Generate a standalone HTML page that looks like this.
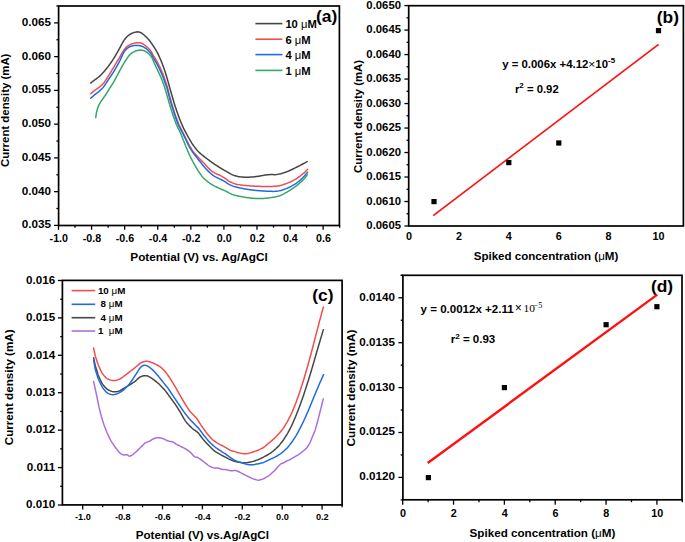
<!DOCTYPE html>
<html><head><meta charset="utf-8"><style>
html,body{margin:0;padding:0;background:#fff;}
svg{display:block;}
text{fill:#000;}
</style></head><body>
<svg width="685" height="542" viewBox="0 0 685 542">
<rect width="685" height="542" fill="#fff"/>
<rect x="58.60" y="6.00" width="280.80" height="219.50" fill="none" stroke="#000" stroke-width="1.7"/>
<line x1="54.10" y1="225.40" x2="58.60" y2="225.40" stroke="#000" stroke-width="1.3"/>
<text transform="translate(51.00,228.30) scale(1.075,1)" font-size="10.9" font-weight="bold" text-anchor="end" font-family="'Liberation Sans', sans-serif">0.035</text>
<line x1="56.40" y1="208.53" x2="58.60" y2="208.53" stroke="#000" stroke-width="1.3"/>
<line x1="54.10" y1="191.65" x2="58.60" y2="191.65" stroke="#000" stroke-width="1.3"/>
<text transform="translate(51.00,194.55) scale(1.075,1)" font-size="10.9" font-weight="bold" text-anchor="end" font-family="'Liberation Sans', sans-serif">0.040</text>
<line x1="56.40" y1="174.78" x2="58.60" y2="174.78" stroke="#000" stroke-width="1.3"/>
<line x1="54.10" y1="157.90" x2="58.60" y2="157.90" stroke="#000" stroke-width="1.3"/>
<text transform="translate(51.00,160.80) scale(1.075,1)" font-size="10.9" font-weight="bold" text-anchor="end" font-family="'Liberation Sans', sans-serif">0.045</text>
<line x1="56.40" y1="141.03" x2="58.60" y2="141.03" stroke="#000" stroke-width="1.3"/>
<line x1="54.10" y1="124.15" x2="58.60" y2="124.15" stroke="#000" stroke-width="1.3"/>
<text transform="translate(51.00,127.05) scale(1.075,1)" font-size="10.9" font-weight="bold" text-anchor="end" font-family="'Liberation Sans', sans-serif">0.050</text>
<line x1="56.40" y1="107.28" x2="58.60" y2="107.28" stroke="#000" stroke-width="1.3"/>
<line x1="54.10" y1="90.40" x2="58.60" y2="90.40" stroke="#000" stroke-width="1.3"/>
<text transform="translate(51.00,93.30) scale(1.075,1)" font-size="10.9" font-weight="bold" text-anchor="end" font-family="'Liberation Sans', sans-serif">0.055</text>
<line x1="56.40" y1="73.53" x2="58.60" y2="73.53" stroke="#000" stroke-width="1.3"/>
<line x1="54.10" y1="56.65" x2="58.60" y2="56.65" stroke="#000" stroke-width="1.3"/>
<text transform="translate(51.00,59.55) scale(1.075,1)" font-size="10.9" font-weight="bold" text-anchor="end" font-family="'Liberation Sans', sans-serif">0.060</text>
<line x1="56.40" y1="39.78" x2="58.60" y2="39.78" stroke="#000" stroke-width="1.3"/>
<line x1="54.10" y1="22.90" x2="58.60" y2="22.90" stroke="#000" stroke-width="1.3"/>
<text transform="translate(51.00,25.80) scale(1.075,1)" font-size="10.9" font-weight="bold" text-anchor="end" font-family="'Liberation Sans', sans-serif">0.065</text>
<line x1="56.40" y1="6.03" x2="58.60" y2="6.03" stroke="#000" stroke-width="1.3"/>
<line x1="58.50" y1="225.50" x2="58.50" y2="229.80" stroke="#000" stroke-width="1.3"/>
<text x="58.80" y="242.00" font-size="10.7" font-weight="bold" text-anchor="middle" font-family="'Liberation Sans', sans-serif" >-1.0</text>
<line x1="75.04" y1="225.50" x2="75.04" y2="227.70" stroke="#000" stroke-width="1.3"/>
<line x1="91.58" y1="225.50" x2="91.58" y2="229.80" stroke="#000" stroke-width="1.3"/>
<text x="91.88" y="242.00" font-size="10.7" font-weight="bold" text-anchor="middle" font-family="'Liberation Sans', sans-serif" >-0.8</text>
<line x1="108.12" y1="225.50" x2="108.12" y2="227.70" stroke="#000" stroke-width="1.3"/>
<line x1="124.66" y1="225.50" x2="124.66" y2="229.80" stroke="#000" stroke-width="1.3"/>
<text x="124.96" y="242.00" font-size="10.7" font-weight="bold" text-anchor="middle" font-family="'Liberation Sans', sans-serif" >-0.6</text>
<line x1="141.20" y1="225.50" x2="141.20" y2="227.70" stroke="#000" stroke-width="1.3"/>
<line x1="157.74" y1="225.50" x2="157.74" y2="229.80" stroke="#000" stroke-width="1.3"/>
<text x="158.04" y="242.00" font-size="10.7" font-weight="bold" text-anchor="middle" font-family="'Liberation Sans', sans-serif" >-0.4</text>
<line x1="174.28" y1="225.50" x2="174.28" y2="227.70" stroke="#000" stroke-width="1.3"/>
<line x1="190.82" y1="225.50" x2="190.82" y2="229.80" stroke="#000" stroke-width="1.3"/>
<text x="191.12" y="242.00" font-size="10.7" font-weight="bold" text-anchor="middle" font-family="'Liberation Sans', sans-serif" >-0.2</text>
<line x1="207.36" y1="225.50" x2="207.36" y2="227.70" stroke="#000" stroke-width="1.3"/>
<line x1="223.90" y1="225.50" x2="223.90" y2="229.80" stroke="#000" stroke-width="1.3"/>
<text x="224.20" y="242.00" font-size="10.7" font-weight="bold" text-anchor="middle" font-family="'Liberation Sans', sans-serif" >0.0</text>
<line x1="240.44" y1="225.50" x2="240.44" y2="227.70" stroke="#000" stroke-width="1.3"/>
<line x1="256.98" y1="225.50" x2="256.98" y2="229.80" stroke="#000" stroke-width="1.3"/>
<text x="257.28" y="242.00" font-size="10.7" font-weight="bold" text-anchor="middle" font-family="'Liberation Sans', sans-serif" >0.2</text>
<line x1="273.52" y1="225.50" x2="273.52" y2="227.70" stroke="#000" stroke-width="1.3"/>
<line x1="290.06" y1="225.50" x2="290.06" y2="229.80" stroke="#000" stroke-width="1.3"/>
<text x="290.36" y="242.00" font-size="10.7" font-weight="bold" text-anchor="middle" font-family="'Liberation Sans', sans-serif" >0.4</text>
<line x1="306.60" y1="225.50" x2="306.60" y2="227.70" stroke="#000" stroke-width="1.3"/>
<line x1="323.14" y1="225.50" x2="323.14" y2="229.80" stroke="#000" stroke-width="1.3"/>
<text x="323.44" y="242.00" font-size="10.7" font-weight="bold" text-anchor="middle" font-family="'Liberation Sans', sans-serif" >0.6</text>
<line x1="339.68" y1="225.50" x2="339.68" y2="227.70" stroke="#000" stroke-width="1.3"/>
<text x="199.00" y="261.20" font-size="11.75" font-weight="bold" text-anchor="middle" font-family="'Liberation Sans', sans-serif" >Potential (V) vs. Ag/AgCl</text>
<text x="0.00" y="0.00" font-size="11.42" font-weight="bold" text-anchor="middle" font-family="'Liberation Sans', sans-serif" transform="translate(9.2,110.3) rotate(-90)">Current density (mA)</text>
<text x="316.00" y="21.70" font-size="17.4" font-weight="bold" text-anchor="start" font-family="'Liberation Sans', sans-serif" >(a)</text>
<line x1="255.40" y1="23.60" x2="282.40" y2="23.60" stroke="#454545" stroke-width="1.6"/>
<text x="285.40" y="27.90" font-size="11.2" font-weight="bold" text-anchor="start" font-family="'Liberation Sans', sans-serif" >10 <tspan font-weight="normal">μ</tspan>M</text>
<line x1="255.40" y1="39.20" x2="282.40" y2="39.20" stroke="#f14d4d" stroke-width="1.6"/>
<text x="285.40" y="43.50" font-size="11.2" font-weight="bold" text-anchor="start" font-family="'Liberation Sans', sans-serif" >6 <tspan font-weight="normal">μ</tspan>M</text>
<line x1="255.40" y1="54.60" x2="282.40" y2="54.60" stroke="#1f6be0" stroke-width="1.6"/>
<text x="285.40" y="58.90" font-size="11.2" font-weight="bold" text-anchor="start" font-family="'Liberation Sans', sans-serif" >4 <tspan font-weight="normal">μ</tspan>M</text>
<line x1="255.40" y1="70.40" x2="282.40" y2="70.40" stroke="#33a867" stroke-width="1.6"/>
<text x="285.40" y="74.70" font-size="11.2" font-weight="bold" text-anchor="start" font-family="'Liberation Sans', sans-serif" >1 <tspan font-weight="normal">μ</tspan>M</text>
<path d="M90.70,83.00 L91.48,82.37 L92.27,81.75 L93.06,81.14 L93.86,80.54 L94.67,79.95 L95.49,79.37 L96.31,78.79 L97.12,78.20 L97.91,77.60 L98.69,76.97 L99.46,76.33 L100.20,75.66 L100.92,74.96 L101.62,74.25 L102.31,73.52 L102.99,72.79 L103.66,72.04 L104.31,71.28 L104.96,70.52 L105.59,69.74 L106.22,68.96 L106.85,68.18 L107.47,67.39 L108.08,66.60 L108.69,65.80 L109.28,64.99 L109.86,64.18 L110.44,63.36 L111.01,62.53 L111.57,61.71 L112.14,60.88 L112.69,60.05 L113.24,59.21 L113.78,58.36 L114.30,57.50 L114.82,56.65 L115.33,55.79 L115.84,54.92 L116.35,54.06 L116.86,53.20 L117.37,52.33 L117.86,51.46 L118.35,50.59 L118.84,49.71 L119.32,48.83 L119.79,47.95 L120.26,47.06 L120.73,46.18 L121.19,45.29 L121.66,44.40 L122.12,43.51 L122.60,42.63 L123.10,41.77 L123.63,40.92 L124.19,40.09 L124.78,39.28 L125.38,38.49 L126.01,37.72 L126.69,36.99 L127.40,36.30 L128.16,35.66 L128.96,35.06 L129.78,34.50 L130.63,33.98 L131.51,33.50 L132.40,33.07 L133.32,32.69 L134.26,32.39 L135.22,32.14 L136.19,31.97 L137.16,31.87 L138.13,31.89 L139.07,32.03 L139.99,32.32 L140.87,32.72 L141.72,33.21 L142.54,33.78 L143.32,34.39 L144.09,35.03 L144.83,35.70 L145.56,36.39 L146.27,37.09 L146.98,37.81 L147.67,38.53 L148.34,39.27 L149.00,40.02 L149.64,40.79 L150.26,41.58 L150.85,42.39 L151.43,43.21 L151.99,44.03 L152.55,44.86 L153.11,45.70 L153.67,46.53 L154.21,47.37 L154.75,48.22 L155.27,49.07 L155.79,49.93 L156.30,50.79 L156.80,51.66 L157.29,52.53 L157.76,53.41 L158.21,54.31 L158.64,55.21 L159.05,56.13 L159.46,57.04 L159.87,57.96 L160.27,58.88 L160.67,59.80 L161.06,60.72 L161.43,61.65 L161.80,62.58 L162.15,63.52 L162.51,64.45 L162.86,65.39 L163.20,66.33 L163.55,67.27 L163.89,68.22 L164.23,69.16 L164.56,70.11 L164.87,71.06 L165.18,72.01 L165.48,72.97 L165.77,73.93 L166.07,74.88 L166.36,75.84 L166.65,76.80 L166.94,77.76 L167.23,78.72 L167.51,79.68 L167.78,80.65 L168.05,81.61 L168.32,82.58 L168.59,83.55 L168.86,84.51 L169.12,85.48 L169.39,86.44 L169.66,87.41 L169.94,88.37 L170.21,89.34 L170.49,90.30 L170.76,91.26 L171.04,92.23 L171.31,93.19 L171.59,94.15 L171.86,95.12 L172.14,96.08 L172.41,97.05 L172.69,98.01 L172.96,98.97 L173.24,99.94 L173.52,100.90 L173.79,101.86 L174.08,102.82 L174.37,103.78 L174.66,104.74 L174.97,105.69 L175.28,106.65 L175.60,107.60 L175.92,108.55 L176.24,109.50 L176.56,110.45 L176.88,111.40 L177.21,112.34 L177.55,113.29 L177.88,114.23 L178.22,115.18 L178.56,116.12 L178.90,117.06 L179.24,118.00 L179.59,118.94 L179.96,119.88 L180.33,120.80 L180.72,121.73 L181.11,122.65 L181.50,123.57 L181.90,124.49 L182.30,125.41 L182.70,126.33 L183.11,127.24 L183.54,128.15 L183.99,129.05 L184.44,129.94 L184.91,130.82 L185.38,131.71 L185.85,132.59 L186.33,133.48 L186.80,134.36 L187.27,135.24 L187.74,136.13 L188.22,137.01 L188.71,137.88 L189.20,138.76 L189.70,139.62 L190.21,140.49 L190.73,141.35 L191.25,142.20 L191.77,143.06 L192.31,143.90 L192.86,144.73 L193.44,145.55 L194.04,146.35 L194.65,147.15 L195.26,147.94 L195.89,148.73 L196.51,149.51 L197.15,150.27 L197.82,151.02 L198.52,151.73 L199.24,152.42 L199.98,153.09 L200.74,153.75 L201.50,154.40 L202.26,155.05 L203.04,155.68 L203.82,156.31 L204.61,156.92 L205.41,157.53 L206.21,158.13 L207.01,158.73 L207.81,159.33 L208.62,159.93 L209.42,160.53 L210.22,161.13 L211.03,161.73 L211.84,162.32 L212.65,162.91 L213.47,163.48 L214.30,164.04 L215.14,164.59 L215.98,165.13 L216.82,165.67 L217.67,166.21 L218.52,166.75 L219.36,167.29 L220.21,167.83 L221.05,168.36 L221.90,168.89 L222.76,169.41 L223.62,169.92 L224.49,170.43 L225.36,170.93 L226.23,171.43 L227.09,171.93 L227.96,172.43 L228.84,172.92 L229.72,173.40 L230.60,173.87 L231.49,174.32 L232.40,174.74 L233.32,175.12 L234.26,175.46 L235.21,175.75 L236.17,176.02 L237.14,176.26 L238.12,176.48 L239.10,176.65 L240.09,176.80 L241.09,176.92 L242.08,177.03 L243.08,177.10 L244.08,177.15 L245.08,177.18 L246.08,177.19 L247.08,177.19 L248.09,177.17 L249.09,177.14 L250.09,177.10 L251.09,177.06 L252.09,177.00 L253.09,176.94 L254.09,176.85 L255.08,176.74 L256.07,176.61 L257.06,176.46 L258.05,176.30 L259.04,176.14 L260.03,175.97 L261.02,175.80 L262.00,175.63 L262.99,175.45 L263.98,175.28 L264.97,175.11 L265.96,174.96 L266.95,174.83 L267.94,174.72 L268.94,174.63 L269.94,174.57 L270.94,174.55 L271.93,174.56 L272.92,174.61 L273.92,174.65 L274.91,174.67 L275.89,174.62 L276.88,174.50 L277.86,174.34 L278.84,174.14 L279.82,173.92 L280.79,173.68 L281.75,173.41 L282.72,173.13 L283.67,172.84 L284.62,172.53 L285.57,172.19 L286.50,171.84 L287.44,171.47 L288.36,171.09 L289.28,170.70 L290.20,170.29 L291.11,169.88 L292.02,169.45 L292.92,169.01 L293.82,168.57 L294.72,168.13 L295.62,167.68 L296.51,167.23 L297.40,166.78 L298.30,166.32 L299.19,165.86 L300.08,165.40 L300.97,164.94 L301.85,164.47 L302.74,164.00 L303.62,163.53 L304.51,163.05 L305.39,162.58 L306.27,162.11 L307.16,161.64" fill="none" stroke="#454545" stroke-width="1.5" stroke-linejoin="round" stroke-linecap="round"/>
<path d="M90.70,93.80 L91.45,93.13 L92.20,92.47 L92.96,91.82 L93.73,91.19 L94.53,90.58 L95.34,90.00 L96.16,89.42 L96.98,88.85 L97.80,88.27 L98.60,87.68 L99.40,87.08 L100.18,86.45 L100.94,85.80 L101.67,85.12 L102.39,84.42 L103.07,83.70 L103.72,82.94 L104.34,82.16 L104.92,81.35 L105.49,80.52 L106.04,79.69 L106.58,78.85 L107.12,78.00 L107.65,77.16 L108.19,76.31 L108.73,75.46 L109.26,74.62 L109.80,73.77 L110.33,72.92 L110.86,72.07 L111.38,71.22 L111.90,70.36 L112.40,69.49 L112.91,68.63 L113.42,67.76 L113.92,66.90 L114.42,66.03 L114.93,65.17 L115.43,64.30 L115.94,63.43 L116.44,62.57 L116.95,61.71 L117.47,60.85 L117.99,60.00 L118.53,59.15 L119.06,58.30 L119.59,57.45 L120.10,56.59 L120.60,55.73 L121.09,54.85 L121.56,53.97 L122.04,53.09 L122.53,52.22 L123.05,51.36 L123.59,50.52 L124.16,49.70 L124.76,48.91 L125.39,48.13 L126.05,47.40 L126.77,46.73 L127.54,46.12 L128.36,45.57 L129.23,45.09 L130.12,44.65 L131.04,44.26 L131.97,43.91 L132.92,43.60 L133.88,43.33 L134.85,43.11 L135.83,42.92 L136.82,42.78 L137.80,42.70 L138.78,42.71 L139.75,42.81 L140.70,43.02 L141.63,43.33 L142.52,43.74 L143.38,44.22 L144.22,44.76 L145.03,45.34 L145.82,45.95 L146.58,46.59 L147.32,47.26 L148.05,47.95 L148.76,48.65 L149.45,49.38 L150.11,50.12 L150.72,50.89 L151.27,51.71 L151.77,52.56 L152.25,53.44 L152.72,54.32 L153.21,55.19 L153.72,56.05 L154.25,56.90 L154.78,57.75 L155.32,58.59 L155.84,59.45 L156.35,60.31 L156.84,61.18 L157.31,62.06 L157.78,62.95 L158.24,63.84 L158.70,64.73 L159.15,65.62 L159.59,66.52 L160.02,67.43 L160.43,68.34 L160.84,69.26 L161.24,70.17 L161.64,71.09 L162.03,72.01 L162.42,72.94 L162.80,73.86 L163.17,74.79 L163.52,75.73 L163.86,76.67 L164.20,77.62 L164.53,78.56 L164.86,79.51 L165.19,80.45 L165.52,81.40 L165.84,82.35 L166.16,83.30 L166.47,84.25 L166.78,85.20 L167.08,86.16 L167.37,87.12 L167.64,88.08 L167.90,89.05 L168.14,90.02 L168.38,90.99 L168.61,91.97 L168.85,92.94 L169.08,93.91 L169.33,94.89 L169.58,95.85 L169.84,96.82 L170.11,97.79 L170.37,98.75 L170.64,99.72 L170.91,100.68 L171.18,101.65 L171.45,102.61 L171.72,103.58 L172.00,104.54 L172.29,105.50 L172.58,106.46 L172.87,107.42 L173.17,108.37 L173.46,109.33 L173.76,110.29 L174.06,111.24 L174.36,112.20 L174.66,113.15 L174.98,114.11 L175.30,115.05 L175.64,116.00 L175.98,116.94 L176.33,117.88 L176.68,118.82 L177.02,119.76 L177.37,120.69 L177.73,121.63 L178.09,122.56 L178.47,123.49 L178.87,124.41 L179.29,125.31 L179.73,126.22 L180.17,127.11 L180.62,128.01 L181.08,128.90 L181.53,129.79 L181.98,130.69 L182.43,131.58 L182.88,132.48 L183.33,133.38 L183.77,134.27 L184.21,135.17 L184.65,136.07 L185.09,136.97 L185.53,137.87 L185.97,138.78 L186.41,139.68 L186.84,140.58 L187.28,141.48 L187.73,142.38 L188.17,143.27 L188.63,144.16 L189.10,145.04 L189.59,145.92 L190.10,146.78 L190.61,147.64 L191.13,148.50 L191.65,149.35 L192.19,150.20 L192.76,151.02 L193.35,151.82 L193.98,152.60 L194.62,153.36 L195.28,154.12 L195.94,154.87 L196.61,155.62 L197.28,156.36 L197.96,157.09 L198.66,157.81 L199.36,158.52 L200.07,159.23 L200.79,159.93 L201.50,160.64 L202.21,161.35 L202.90,162.06 L203.59,162.79 L204.27,163.52 L204.95,164.27 L205.62,165.01 L206.29,165.75 L206.96,166.49 L207.65,167.22 L208.35,167.94 L209.06,168.64 L209.79,169.33 L210.53,170.00 L211.28,170.67 L212.04,171.31 L212.82,171.92 L213.64,172.47 L214.50,172.96 L215.39,173.41 L216.30,173.82 L217.21,174.22 L218.13,174.62 L219.05,175.02 L219.96,175.44 L220.86,175.87 L221.75,176.32 L222.63,176.80 L223.49,177.31 L224.33,177.85 L225.15,178.42 L225.97,179.00 L226.77,179.60 L227.58,180.19 L228.40,180.76 L229.24,181.29 L230.10,181.78 L230.99,182.24 L231.89,182.66 L232.81,183.05 L233.74,183.41 L234.69,183.72 L235.65,183.99 L236.62,184.22 L237.60,184.44 L238.58,184.63 L239.56,184.81 L240.55,184.97 L241.54,185.11 L242.54,185.22 L243.53,185.33 L244.53,185.42 L245.53,185.52 L246.52,185.61 L247.52,185.69 L248.52,185.77 L249.52,185.83 L250.52,185.90 L251.52,185.96 L252.52,186.02 L253.52,186.08 L254.52,186.14 L255.52,186.19 L256.52,186.23 L257.52,186.28 L258.52,186.32 L259.52,186.35 L260.52,186.39 L261.53,186.42 L262.53,186.45 L263.53,186.46 L264.53,186.47 L265.53,186.47 L266.53,186.46 L267.54,186.44 L268.54,186.43 L269.54,186.42 L270.54,186.41 L271.54,186.40 L272.54,186.39 L273.54,186.37 L274.54,186.33 L275.54,186.25 L276.53,186.14 L277.52,186.00 L278.51,185.84 L279.49,185.65 L280.46,185.42 L281.43,185.17 L282.39,184.88 L283.34,184.58 L284.29,184.27 L285.24,183.94 L286.18,183.60 L287.11,183.24 L288.05,182.88 L288.98,182.50 L289.90,182.11 L290.81,181.71 L291.72,181.29 L292.62,180.85 L293.52,180.40 L294.40,179.94 L295.27,179.44 L296.12,178.92 L296.96,178.37 L297.78,177.81 L298.60,177.23 L299.41,176.64 L300.21,176.04 L301.00,175.42 L301.78,174.79 L302.54,174.15 L303.30,173.49 L304.04,172.82 L304.78,172.14 L305.49,171.44 L306.20,170.73 L306.90,170.02 L307.60,169.30" fill="none" stroke="#f14d4d" stroke-width="1.5" stroke-linejoin="round" stroke-linecap="round"/>
<path d="M90.70,98.20 L91.45,97.53 L92.19,96.86 L92.95,96.21 L93.72,95.56 L94.50,94.94 L95.29,94.32 L96.09,93.72 L96.88,93.10 L97.67,92.48 L98.44,91.84 L99.20,91.19 L99.95,90.53 L100.69,89.85 L101.41,89.16 L102.12,88.45 L102.80,87.72 L103.45,86.96 L104.07,86.18 L104.65,85.37 L105.22,84.54 L105.77,83.71 L106.31,82.87 L106.86,82.02 L107.41,81.18 L107.96,80.34 L108.51,79.51 L109.06,78.67 L109.62,77.84 L110.17,77.00 L110.73,76.17 L111.29,75.34 L111.85,74.51 L112.41,73.67 L112.96,72.84 L113.51,72.00 L114.04,71.15 L114.56,70.29 L115.06,69.43 L115.56,68.55 L116.05,67.68 L116.54,66.80 L117.03,65.93 L117.52,65.05 L118.00,64.18 L118.49,63.30 L118.97,62.42 L119.44,61.54 L119.90,60.64 L120.33,59.74 L120.75,58.83 L121.16,57.92 L121.56,57.00 L121.96,56.08 L122.37,55.17 L122.81,54.27 L123.27,53.38 L123.78,52.52 L124.32,51.69 L124.90,50.87 L125.51,50.09 L126.15,49.34 L126.86,48.65 L127.62,48.04 L128.44,47.49 L129.31,47.02 L130.21,46.62 L131.14,46.28 L132.10,46.00 L133.07,45.78 L134.05,45.61 L135.04,45.50 L136.03,45.44 L137.03,45.43 L138.02,45.47 L139.01,45.57 L139.98,45.75 L140.94,45.99 L141.88,46.30 L142.80,46.68 L143.69,47.11 L144.56,47.60 L145.40,48.14 L146.21,48.72 L146.98,49.34 L147.73,50.01 L148.45,50.70 L149.16,51.40 L149.84,52.13 L150.49,52.88 L151.08,53.67 L151.60,54.51 L152.06,55.38 L152.50,56.27 L152.95,57.16 L153.43,58.04 L153.93,58.91 L154.45,59.76 L154.98,60.62 L155.50,61.47 L156.01,62.33 L156.51,63.20 L156.99,64.08 L157.45,64.97 L157.91,65.86 L158.36,66.76 L158.81,67.65 L159.26,68.55 L159.69,69.45 L160.12,70.36 L160.54,71.27 L160.95,72.19 L161.36,73.10 L161.77,74.02 L162.17,74.94 L162.56,75.86 L162.94,76.79 L163.30,77.72 L163.64,78.66 L163.97,79.61 L164.30,80.55 L164.63,81.50 L164.96,82.45 L165.29,83.40 L165.63,84.34 L165.96,85.28 L166.30,86.23 L166.63,87.17 L166.95,88.12 L167.25,89.08 L167.53,90.04 L167.78,91.01 L168.03,91.98 L168.27,92.96 L168.51,93.93 L168.75,94.90 L169.00,95.87 L169.25,96.84 L169.52,97.81 L169.79,98.78 L170.07,99.74 L170.34,100.70 L170.62,101.67 L170.90,102.63 L171.18,103.59 L171.47,104.55 L171.75,105.51 L172.04,106.48 L172.33,107.43 L172.62,108.39 L172.92,109.35 L173.22,110.31 L173.52,111.26 L173.82,112.22 L174.12,113.18 L174.42,114.13 L174.73,115.09 L175.05,116.04 L175.39,116.98 L175.73,117.92 L176.08,118.87 L176.43,119.80 L176.78,120.74 L177.13,121.68 L177.49,122.62 L177.85,123.55 L178.22,124.48 L178.62,125.40 L179.04,126.31 L179.49,127.20 L179.95,128.09 L180.42,128.98 L180.90,129.86 L181.37,130.74 L181.85,131.63 L182.32,132.51 L182.79,133.40 L183.25,134.29 L183.70,135.18 L184.14,136.08 L184.58,136.99 L185.01,137.89 L185.44,138.80 L185.87,139.70 L186.30,140.61 L186.73,141.52 L187.16,142.42 L187.59,143.33 L188.02,144.23 L188.47,145.12 L188.94,146.01 L189.42,146.89 L189.92,147.75 L190.44,148.62 L190.96,149.47 L191.48,150.33 L192.02,151.17 L192.57,152.01 L193.14,152.83 L193.73,153.64 L194.33,154.44 L194.95,155.23 L195.56,156.02 L196.18,156.81 L196.80,157.60 L197.42,158.39 L198.05,159.17 L198.67,159.96 L199.29,160.74 L199.92,161.53 L200.55,162.31 L201.17,163.09 L201.80,163.87 L202.44,164.65 L203.08,165.42 L203.73,166.18 L204.39,166.93 L205.06,167.68 L205.73,168.43 L206.40,169.17 L207.08,169.91 L207.77,170.64 L208.47,171.35 L209.19,172.04 L209.93,172.72 L210.68,173.39 L211.43,174.05 L212.20,174.68 L212.99,175.29 L213.81,175.85 L214.66,176.37 L215.54,176.85 L216.43,177.31 L217.32,177.76 L218.22,178.20 L219.12,178.65 L220.02,179.09 L220.92,179.54 L221.81,179.99 L222.70,180.46 L223.58,180.94 L224.45,181.44 L225.30,181.95 L226.15,182.49 L226.99,183.03 L227.83,183.57 L228.69,184.09 L229.56,184.56 L230.46,184.99 L231.38,185.39 L232.31,185.76 L233.25,186.11 L234.19,186.43 L235.15,186.72 L236.12,186.98 L237.09,187.23 L238.06,187.47 L239.04,187.70 L240.01,187.92 L240.99,188.14 L241.98,188.34 L242.96,188.54 L243.94,188.74 L244.93,188.93 L245.91,189.11 L246.90,189.28 L247.89,189.44 L248.88,189.58 L249.87,189.71 L250.87,189.84 L251.86,189.96 L252.86,190.08 L253.85,190.20 L254.85,190.32 L255.85,190.42 L256.85,190.52 L257.84,190.61 L258.84,190.70 L259.84,190.78 L260.84,190.87 L261.84,190.95 L262.84,191.02 L263.84,191.08 L264.84,191.12 L265.84,191.16 L266.85,191.19 L267.85,191.22 L268.85,191.25 L269.85,191.29 L270.85,191.32 L271.86,191.36 L272.86,191.38 L273.86,191.39 L274.86,191.37 L275.85,191.30 L276.84,191.19 L277.83,191.05 L278.82,190.88 L279.80,190.68 L280.77,190.45 L281.73,190.18 L282.69,189.89 L283.64,189.58 L284.59,189.24 L285.52,188.89 L286.45,188.51 L287.37,188.11 L288.28,187.70 L289.19,187.28 L290.09,186.84 L290.99,186.39 L291.88,185.92 L292.76,185.44 L293.63,184.95 L294.49,184.44 L295.33,183.91 L296.16,183.34 L296.97,182.75 L297.76,182.14 L298.55,181.52 L299.33,180.89 L300.09,180.24 L300.84,179.58 L301.57,178.90 L302.29,178.20 L303.00,177.49 L303.69,176.77 L304.38,176.04 L305.04,175.29 L305.69,174.53 L306.33,173.75 L306.97,172.98 L307.60,172.20" fill="none" stroke="#1f6be0" stroke-width="1.5" stroke-linejoin="round" stroke-linecap="round"/>
<path d="M95.70,117.60 L95.84,116.61 L95.99,115.62 L96.13,114.62 L96.29,113.64 L96.48,112.65 L96.69,111.68 L96.94,110.71 L97.21,109.74 L97.51,108.79 L97.82,107.84 L98.17,106.90 L98.54,105.97 L98.95,105.06 L99.39,104.16 L99.86,103.28 L100.36,102.41 L100.89,101.57 L101.45,100.74 L102.04,99.93 L102.63,99.12 L103.21,98.31 L103.79,97.49 L104.36,96.67 L104.92,95.84 L105.48,95.00 L106.03,94.16 L106.57,93.32 L107.11,92.47 L107.64,91.62 L108.17,90.77 L108.69,89.92 L109.21,89.06 L109.74,88.21 L110.28,87.36 L110.82,86.52 L111.36,85.68 L111.91,84.84 L112.45,83.99 L112.97,83.14 L113.49,82.28 L113.99,81.41 L114.48,80.54 L114.97,79.66 L115.45,78.78 L115.92,77.90 L116.40,77.01 L116.87,76.13 L117.34,75.24 L117.81,74.36 L118.28,73.47 L118.75,72.59 L119.22,71.70 L119.69,70.81 L120.16,69.93 L120.63,69.04 L121.10,68.16 L121.57,67.27 L122.05,66.39 L122.55,65.52 L123.05,64.66 L123.57,63.80 L124.10,62.94 L124.63,62.09 L125.16,61.25 L125.71,60.41 L126.26,59.57 L126.82,58.74 L127.39,57.92 L127.97,57.10 L128.56,56.29 L129.18,55.51 L129.83,54.77 L130.54,54.07 L131.30,53.43 L132.10,52.84 L132.93,52.31 L133.81,51.84 L134.71,51.43 L135.64,51.07 L136.58,50.75 L137.54,50.48 L138.51,50.27 L139.48,50.14 L140.46,50.11 L141.44,50.17 L142.41,50.33 L143.36,50.57 L144.29,50.90 L145.19,51.30 L146.06,51.78 L146.90,52.31 L147.71,52.88 L148.48,53.50 L149.22,54.17 L149.91,54.89 L150.56,55.64 L151.15,56.43 L151.68,57.26 L152.14,58.14 L152.57,59.04 L152.97,59.96 L153.36,60.88 L153.75,61.80 L154.14,62.73 L154.53,63.65 L154.93,64.57 L155.34,65.48 L155.76,66.39 L156.19,67.30 L156.62,68.20 L157.06,69.10 L157.50,70.00 L157.94,70.91 L158.37,71.81 L158.80,72.72 L159.22,73.63 L159.64,74.54 L160.05,75.45 L160.46,76.37 L160.86,77.29 L161.26,78.21 L161.64,79.13 L162.01,80.06 L162.37,81.00 L162.73,81.94 L163.07,82.88 L163.42,83.82 L163.76,84.76 L164.10,85.71 L164.42,86.65 L164.72,87.61 L165.01,88.57 L165.30,89.53 L165.58,90.49 L165.86,91.45 L166.14,92.42 L166.42,93.38 L166.70,94.34 L166.98,95.31 L167.26,96.27 L167.54,97.23 L167.82,98.19 L168.10,99.16 L168.38,100.12 L168.65,101.08 L168.93,102.05 L169.21,103.01 L169.50,103.97 L169.78,104.93 L170.06,105.89 L170.35,106.85 L170.65,107.81 L170.94,108.77 L171.24,109.73 L171.54,110.69 L171.84,111.64 L172.14,112.60 L172.44,113.56 L172.75,114.51 L173.06,115.46 L173.38,116.41 L173.72,117.35 L174.06,118.30 L174.41,119.24 L174.77,120.17 L175.12,121.11 L175.47,122.05 L175.83,122.99 L176.19,123.92 L176.56,124.85 L176.96,125.77 L177.37,126.68 L177.80,127.59 L178.25,128.49 L178.69,129.39 L179.14,130.28 L179.59,131.18 L180.03,132.08 L180.46,132.98 L180.87,133.90 L181.27,134.82 L181.65,135.74 L182.01,136.68 L182.37,137.61 L182.72,138.55 L183.08,139.49 L183.44,140.43 L183.79,141.36 L184.15,142.30 L184.52,143.23 L184.89,144.16 L185.27,145.09 L185.65,146.02 L186.04,146.94 L186.42,147.87 L186.81,148.79 L187.20,149.72 L187.58,150.64 L187.97,151.57 L188.37,152.49 L188.77,153.41 L189.19,154.32 L189.62,155.22 L190.06,156.12 L190.51,157.02 L190.96,157.92 L191.41,158.81 L191.86,159.71 L192.32,160.60 L192.78,161.49 L193.26,162.37 L193.74,163.25 L194.23,164.12 L194.72,164.99 L195.22,165.87 L195.71,166.74 L196.21,167.61 L196.71,168.48 L197.22,169.34 L197.74,170.20 L198.29,171.04 L198.85,171.86 L199.43,172.68 L200.02,173.49 L200.61,174.30 L201.21,175.11 L201.81,175.91 L202.43,176.69 L203.08,177.45 L203.76,178.17 L204.47,178.87 L205.21,179.55 L205.96,180.22 L206.71,180.87 L207.48,181.51 L208.27,182.13 L209.08,182.72 L209.90,183.28 L210.75,183.82 L211.59,184.35 L212.45,184.87 L213.32,185.38 L214.20,185.86 L215.08,186.33 L215.97,186.78 L216.87,187.23 L217.77,187.67 L218.68,188.10 L219.59,188.51 L220.51,188.92 L221.43,189.31 L222.36,189.68 L223.29,190.05 L224.22,190.42 L225.13,190.82 L226.02,191.26 L226.90,191.73 L227.77,192.22 L228.64,192.71 L229.53,193.17 L230.43,193.59 L231.35,193.98 L232.28,194.35 L233.22,194.69 L234.17,195.01 L235.13,195.29 L236.10,195.54 L237.07,195.78 L238.05,196.00 L239.03,196.22 L240.01,196.42 L240.99,196.61 L241.98,196.79 L242.97,196.97 L243.96,197.13 L244.94,197.30 L245.93,197.45 L246.93,197.60 L247.92,197.73 L248.92,197.85 L249.91,197.95 L250.91,198.06 L251.91,198.15 L252.90,198.25 L253.90,198.33 L254.90,198.40 L255.90,198.45 L256.90,198.48 L257.91,198.49 L258.91,198.50 L259.91,198.50 L260.91,198.49 L261.92,198.48 L262.92,198.45 L263.92,198.40 L264.91,198.32 L265.91,198.22 L266.91,198.12 L267.90,198.01 L268.90,197.89 L269.89,197.76 L270.89,197.62 L271.88,197.48 L272.87,197.33 L273.86,197.16 L274.84,196.98 L275.82,196.77 L276.80,196.55 L277.77,196.30 L278.73,196.03 L279.68,195.73 L280.62,195.38 L281.53,194.99 L282.44,194.56 L283.34,194.12 L284.23,193.66 L285.11,193.18 L285.98,192.69 L286.85,192.19 L287.71,191.67 L288.56,191.15 L289.41,190.62 L290.26,190.08 L291.10,189.53 L291.93,188.97 L292.76,188.41 L293.58,187.84 L294.40,187.26 L295.21,186.67 L296.01,186.07 L296.80,185.46 L297.59,184.83 L298.37,184.20 L299.15,183.57 L299.91,182.92 L300.66,182.26 L301.40,181.59 L302.13,180.90 L302.84,180.19 L303.54,179.48 L304.22,178.75 L304.88,177.99 L305.50,177.21 L306.11,176.42 L306.71,175.61 L307.30,174.80" fill="none" stroke="#33a867" stroke-width="1.5" stroke-linejoin="round" stroke-linecap="round"/>
<rect x="408.70" y="5.70" width="274.70" height="220.30" fill="none" stroke="#000" stroke-width="1.7"/>
<line x1="404.40" y1="226.00" x2="408.70" y2="226.00" stroke="#000" stroke-width="1.3"/>
<text transform="translate(401.00,229.20) scale(1.05,1)" font-size="10.8" font-weight="bold" text-anchor="end" font-family="'Liberation Sans', sans-serif">0.0605</text>
<line x1="406.50" y1="213.75" x2="408.70" y2="213.75" stroke="#000" stroke-width="1.3"/>
<line x1="404.40" y1="201.51" x2="408.70" y2="201.51" stroke="#000" stroke-width="1.3"/>
<text transform="translate(401.00,204.71) scale(1.05,1)" font-size="10.8" font-weight="bold" text-anchor="end" font-family="'Liberation Sans', sans-serif">0.0610</text>
<line x1="406.50" y1="189.26" x2="408.70" y2="189.26" stroke="#000" stroke-width="1.3"/>
<line x1="404.40" y1="177.02" x2="408.70" y2="177.02" stroke="#000" stroke-width="1.3"/>
<text transform="translate(401.00,180.22) scale(1.05,1)" font-size="10.8" font-weight="bold" text-anchor="end" font-family="'Liberation Sans', sans-serif">0.0615</text>
<line x1="406.50" y1="164.78" x2="408.70" y2="164.78" stroke="#000" stroke-width="1.3"/>
<line x1="404.40" y1="152.53" x2="408.70" y2="152.53" stroke="#000" stroke-width="1.3"/>
<text transform="translate(401.00,155.73) scale(1.05,1)" font-size="10.8" font-weight="bold" text-anchor="end" font-family="'Liberation Sans', sans-serif">0.0620</text>
<line x1="406.50" y1="140.28" x2="408.70" y2="140.28" stroke="#000" stroke-width="1.3"/>
<line x1="404.40" y1="128.04" x2="408.70" y2="128.04" stroke="#000" stroke-width="1.3"/>
<text transform="translate(401.00,131.24) scale(1.05,1)" font-size="10.8" font-weight="bold" text-anchor="end" font-family="'Liberation Sans', sans-serif">0.0625</text>
<line x1="406.50" y1="115.80" x2="408.70" y2="115.80" stroke="#000" stroke-width="1.3"/>
<line x1="404.40" y1="103.55" x2="408.70" y2="103.55" stroke="#000" stroke-width="1.3"/>
<text transform="translate(401.00,106.75) scale(1.05,1)" font-size="10.8" font-weight="bold" text-anchor="end" font-family="'Liberation Sans', sans-serif">0.0630</text>
<line x1="406.50" y1="91.31" x2="408.70" y2="91.31" stroke="#000" stroke-width="1.3"/>
<line x1="404.40" y1="79.06" x2="408.70" y2="79.06" stroke="#000" stroke-width="1.3"/>
<text transform="translate(401.00,82.26) scale(1.05,1)" font-size="10.8" font-weight="bold" text-anchor="end" font-family="'Liberation Sans', sans-serif">0.0635</text>
<line x1="406.50" y1="66.81" x2="408.70" y2="66.81" stroke="#000" stroke-width="1.3"/>
<line x1="404.40" y1="54.57" x2="408.70" y2="54.57" stroke="#000" stroke-width="1.3"/>
<text transform="translate(401.00,57.77) scale(1.05,1)" font-size="10.8" font-weight="bold" text-anchor="end" font-family="'Liberation Sans', sans-serif">0.0640</text>
<line x1="406.50" y1="42.33" x2="408.70" y2="42.33" stroke="#000" stroke-width="1.3"/>
<line x1="404.40" y1="30.08" x2="408.70" y2="30.08" stroke="#000" stroke-width="1.3"/>
<text transform="translate(401.00,33.28) scale(1.05,1)" font-size="10.8" font-weight="bold" text-anchor="end" font-family="'Liberation Sans', sans-serif">0.0645</text>
<line x1="406.50" y1="17.84" x2="408.70" y2="17.84" stroke="#000" stroke-width="1.3"/>
<line x1="404.40" y1="5.59" x2="408.70" y2="5.59" stroke="#000" stroke-width="1.3"/>
<text transform="translate(401.00,8.79) scale(1.05,1)" font-size="10.8" font-weight="bold" text-anchor="end" font-family="'Liberation Sans', sans-serif">0.0650</text>
<text transform="translate(409.00,240.10) scale(1.0,1.06)" font-size="10.8" font-weight="bold" text-anchor="middle" font-family="'Liberation Sans', sans-serif">0</text>
<text transform="translate(458.90,240.10) scale(1.0,1.06)" font-size="10.8" font-weight="bold" text-anchor="middle" font-family="'Liberation Sans', sans-serif">2</text>
<text transform="translate(508.80,240.10) scale(1.0,1.06)" font-size="10.8" font-weight="bold" text-anchor="middle" font-family="'Liberation Sans', sans-serif">4</text>
<text transform="translate(558.70,240.10) scale(1.0,1.06)" font-size="10.8" font-weight="bold" text-anchor="middle" font-family="'Liberation Sans', sans-serif">6</text>
<text transform="translate(608.60,240.10) scale(1.0,1.06)" font-size="10.8" font-weight="bold" text-anchor="middle" font-family="'Liberation Sans', sans-serif">8</text>
<text transform="translate(658.50,240.10) scale(1.0,1.06)" font-size="10.8" font-weight="bold" text-anchor="middle" font-family="'Liberation Sans', sans-serif">10</text>
<text x="546.00" y="260.20" font-size="11.55" font-weight="bold" text-anchor="middle" font-family="'Liberation Sans', sans-serif" >Spiked concentration (<tspan font-weight="normal">μ</tspan>M)</text>
<text x="0.00" y="0.00" font-size="11.36" font-weight="bold" text-anchor="middle" font-family="'Liberation Sans', sans-serif" transform="translate(362.2,116.4) rotate(-90)">Current density (mA)</text>
<text x="656.80" y="22.50" font-size="17.4" font-weight="bold" text-anchor="start" font-family="'Liberation Sans', sans-serif" >(b)</text>
<line x1="433.20" y1="215.60" x2="658.60" y2="44.40" stroke="#ff1010" stroke-width="1.7"/>
<rect x="431.40" y="199.00" width="5.2" height="5.2" fill="#000"/>
<rect x="506.20" y="160.00" width="5.2" height="5.2" fill="#000"/>
<rect x="556.20" y="140.40" width="5.2" height="5.2" fill="#000"/>
<rect x="655.90" y="28.00" width="5.2" height="5.2" fill="#000"/>
<text transform="translate(502.2,67.6) scale(1.065,1)" font-size="10.7" font-weight="bold" font-family="'Liberation Sans', sans-serif">y = 0.006x +4.12<tspan font-weight="normal" font-size="11.2">×</tspan>10<tspan font-size="7.5" dy="-4.6">-5</tspan></text>
<text transform="translate(514.9,92.8) scale(1.06,1)" font-size="10.7" font-weight="bold" font-family="'Liberation Sans', sans-serif">r<tspan font-size="7.5" dy="-4.5">2</tspan><tspan dy="4.5"> = 0.92</tspan></text>
<rect x="62.40" y="280.40" width="279.70" height="224.50" fill="none" stroke="#000" stroke-width="1.7"/>
<line x1="57.90" y1="505.00" x2="62.40" y2="505.00" stroke="#000" stroke-width="1.3"/>
<text transform="translate(55.20,508.30) scale(1.07,1)" font-size="10.9" font-weight="bold" text-anchor="end" font-family="'Liberation Sans', sans-serif">0.010</text>
<line x1="60.20" y1="486.29" x2="62.40" y2="486.29" stroke="#000" stroke-width="1.3"/>
<line x1="57.90" y1="467.58" x2="62.40" y2="467.58" stroke="#000" stroke-width="1.3"/>
<text transform="translate(55.20,470.88) scale(1.07,1)" font-size="10.9" font-weight="bold" text-anchor="end" font-family="'Liberation Sans', sans-serif">0.011</text>
<line x1="60.20" y1="448.87" x2="62.40" y2="448.87" stroke="#000" stroke-width="1.3"/>
<line x1="57.90" y1="430.16" x2="62.40" y2="430.16" stroke="#000" stroke-width="1.3"/>
<text transform="translate(55.20,433.46) scale(1.07,1)" font-size="10.9" font-weight="bold" text-anchor="end" font-family="'Liberation Sans', sans-serif">0.012</text>
<line x1="60.20" y1="411.45" x2="62.40" y2="411.45" stroke="#000" stroke-width="1.3"/>
<line x1="57.90" y1="392.74" x2="62.40" y2="392.74" stroke="#000" stroke-width="1.3"/>
<text transform="translate(55.20,396.04) scale(1.07,1)" font-size="10.9" font-weight="bold" text-anchor="end" font-family="'Liberation Sans', sans-serif">0.013</text>
<line x1="60.20" y1="374.03" x2="62.40" y2="374.03" stroke="#000" stroke-width="1.3"/>
<line x1="57.90" y1="355.32" x2="62.40" y2="355.32" stroke="#000" stroke-width="1.3"/>
<text transform="translate(55.20,358.62) scale(1.07,1)" font-size="10.9" font-weight="bold" text-anchor="end" font-family="'Liberation Sans', sans-serif">0.014</text>
<line x1="60.20" y1="336.61" x2="62.40" y2="336.61" stroke="#000" stroke-width="1.3"/>
<line x1="57.90" y1="317.90" x2="62.40" y2="317.90" stroke="#000" stroke-width="1.3"/>
<text transform="translate(55.20,321.20) scale(1.07,1)" font-size="10.9" font-weight="bold" text-anchor="end" font-family="'Liberation Sans', sans-serif">0.015</text>
<line x1="60.20" y1="299.19" x2="62.40" y2="299.19" stroke="#000" stroke-width="1.3"/>
<line x1="57.90" y1="280.48" x2="62.40" y2="280.48" stroke="#000" stroke-width="1.3"/>
<text transform="translate(55.20,283.78) scale(1.07,1)" font-size="10.9" font-weight="bold" text-anchor="end" font-family="'Liberation Sans', sans-serif">0.016</text>
<line x1="82.70" y1="504.90" x2="82.70" y2="509.40" stroke="#000" stroke-width="1.3"/>
<text transform="translate(82.90,520.00) scale(1.0,1.07)" font-size="9.2" font-weight="bold" text-anchor="middle" font-family="'Liberation Sans', sans-serif">-1.0</text>
<line x1="102.65" y1="504.90" x2="102.65" y2="507.30" stroke="#000" stroke-width="1.3"/>
<line x1="122.60" y1="504.90" x2="122.60" y2="509.40" stroke="#000" stroke-width="1.3"/>
<text transform="translate(122.80,520.00) scale(1.0,1.07)" font-size="9.2" font-weight="bold" text-anchor="middle" font-family="'Liberation Sans', sans-serif">-0.8</text>
<line x1="142.55" y1="504.90" x2="142.55" y2="507.30" stroke="#000" stroke-width="1.3"/>
<line x1="162.50" y1="504.90" x2="162.50" y2="509.40" stroke="#000" stroke-width="1.3"/>
<text transform="translate(162.70,520.00) scale(1.0,1.07)" font-size="9.2" font-weight="bold" text-anchor="middle" font-family="'Liberation Sans', sans-serif">-0.6</text>
<line x1="182.45" y1="504.90" x2="182.45" y2="507.30" stroke="#000" stroke-width="1.3"/>
<line x1="202.40" y1="504.90" x2="202.40" y2="509.40" stroke="#000" stroke-width="1.3"/>
<text transform="translate(202.60,520.00) scale(1.0,1.07)" font-size="9.2" font-weight="bold" text-anchor="middle" font-family="'Liberation Sans', sans-serif">-0.4</text>
<line x1="222.35" y1="504.90" x2="222.35" y2="507.30" stroke="#000" stroke-width="1.3"/>
<line x1="242.30" y1="504.90" x2="242.30" y2="509.40" stroke="#000" stroke-width="1.3"/>
<text transform="translate(242.50,520.00) scale(1.0,1.07)" font-size="9.2" font-weight="bold" text-anchor="middle" font-family="'Liberation Sans', sans-serif">-0.2</text>
<line x1="262.25" y1="504.90" x2="262.25" y2="507.30" stroke="#000" stroke-width="1.3"/>
<line x1="282.20" y1="504.90" x2="282.20" y2="509.40" stroke="#000" stroke-width="1.3"/>
<text transform="translate(282.40,520.00) scale(1.0,1.07)" font-size="9.2" font-weight="bold" text-anchor="middle" font-family="'Liberation Sans', sans-serif">0.0</text>
<line x1="302.15" y1="504.90" x2="302.15" y2="507.30" stroke="#000" stroke-width="1.3"/>
<line x1="322.10" y1="504.90" x2="322.10" y2="509.40" stroke="#000" stroke-width="1.3"/>
<text transform="translate(322.30,520.00) scale(1.0,1.07)" font-size="9.2" font-weight="bold" text-anchor="middle" font-family="'Liberation Sans', sans-serif">0.2</text>
<line x1="342.05" y1="504.90" x2="342.05" y2="507.30" stroke="#000" stroke-width="1.3"/>
<text x="202.30" y="538.90" font-size="11.65" font-weight="bold" text-anchor="middle" font-family="'Liberation Sans', sans-serif" >Potential (V) vs.Ag/AgCl</text>
<text x="0.00" y="0.00" font-size="11.67" font-weight="bold" text-anchor="middle" font-family="'Liberation Sans', sans-serif" transform="translate(13.4,387.3) rotate(-90)">Current density (mA)</text>
<text x="312.20" y="301.00" font-size="17.4" font-weight="bold" text-anchor="start" font-family="'Liberation Sans', sans-serif" >(c)</text>
<line x1="71.60" y1="290.60" x2="95.20" y2="290.60" stroke="#f14d4d" stroke-width="1.6"/>
<text x="97.9" y="293.70" font-size="9.8" font-weight="bold" font-family="'Liberation Sans', sans-serif" xml:space="preserve">10 <tspan font-weight="normal">μ</tspan>M</text>
<line x1="71.60" y1="304.30" x2="95.20" y2="304.30" stroke="#1f6be0" stroke-width="1.6"/>
<text x="97.9" y="307.40" font-size="9.8" font-weight="bold" font-family="'Liberation Sans', sans-serif" xml:space="preserve"> 8 <tspan font-weight="normal">μ</tspan>M</text>
<line x1="71.60" y1="317.70" x2="95.20" y2="317.70" stroke="#474747" stroke-width="1.6"/>
<text x="97.9" y="320.80" font-size="9.8" font-weight="bold" font-family="'Liberation Sans', sans-serif" xml:space="preserve"> 4 <tspan font-weight="normal">μ</tspan>M</text>
<line x1="71.60" y1="331.00" x2="95.20" y2="331.00" stroke="#a96fe0" stroke-width="1.6"/>
<text x="97.9" y="334.10" font-size="9.8" font-weight="bold" font-family="'Liberation Sans', sans-serif" xml:space="preserve">1  <tspan font-weight="normal">μ</tspan>M</text>
<path d="M93.60,381.40 L93.81,382.38 L94.03,383.36 L94.24,384.34 L94.45,385.32 L94.67,386.30 L94.88,387.28 L95.09,388.26 L95.31,389.24 L95.52,390.22 L95.73,391.20 L95.95,392.18 L96.16,393.16 L96.37,394.14 L96.59,395.12 L96.79,396.10 L97.00,397.08 L97.19,398.06 L97.39,399.04 L97.59,400.03 L97.78,401.01 L97.98,401.99 L98.18,402.98 L98.37,403.96 L98.57,404.94 L98.77,405.93 L98.98,406.90 L99.22,407.88 L99.46,408.85 L99.70,409.83 L99.94,410.80 L100.18,411.77 L100.42,412.75 L100.66,413.72 L100.90,414.69 L101.16,415.66 L101.44,416.62 L101.73,417.58 L102.02,418.54 L102.31,419.50 L102.60,420.46 L102.90,421.42 L103.19,422.38 L103.48,423.34 L103.79,424.29 L104.13,425.23 L104.48,426.17 L104.85,427.11 L105.21,428.04 L105.57,428.98 L105.93,429.91 L106.29,430.85 L106.65,431.78 L107.02,432.71 L107.42,433.63 L107.85,434.54 L108.29,435.44 L108.73,436.34 L109.17,437.24 L109.61,438.14 L110.05,439.04 L110.49,439.94 L110.96,440.83 L111.48,441.68 L112.03,442.52 L112.60,443.34 L113.16,444.17 L113.73,445.00 L114.29,445.83 L114.86,446.66 L115.44,447.48 L116.04,448.28 L116.65,449.07 L117.27,449.86 L117.89,450.65 L118.51,451.43 L119.14,452.22 L119.80,452.95 L120.58,453.56 L121.43,454.08 L122.30,454.56 L123.20,454.89 L124.16,454.93 L125.14,454.80 L126.13,454.68 L127.05,454.76 L127.85,455.22 L128.61,455.82 L129.40,456.15 L130.25,455.98 L131.14,455.55 L132.02,455.08 L132.85,454.54 L133.64,453.92 L134.40,453.27 L135.17,452.62 L135.93,451.97 L136.67,451.30 L137.39,450.60 L138.10,449.90 L138.81,449.19 L139.52,448.48 L140.23,447.77 L140.94,447.06 L141.65,446.35 L142.36,445.64 L143.07,444.93 L143.78,444.22 L144.49,443.52 L145.24,442.89 L146.10,442.42 L147.03,442.08 L147.98,441.75 L148.92,441.40 L149.83,441.00 L150.71,440.52 L151.55,439.98 L152.39,439.44 L153.25,438.94 L154.16,438.56 L155.13,438.29 L156.10,438.04 L157.07,437.80 L158.04,437.65 L159.02,437.71 L160.00,437.89 L160.98,438.10 L161.95,438.33 L162.91,438.61 L163.83,438.99 L164.74,439.42 L165.64,439.85 L166.55,440.28 L167.46,440.70 L168.38,441.08 L169.33,441.32 L170.32,441.44 L171.31,441.55 L172.27,441.78 L173.15,442.20 L174.01,442.72 L174.86,443.24 L175.72,443.77 L176.58,444.28 L177.45,444.77 L178.35,445.22 L179.24,445.67 L180.14,446.12 L181.04,446.57 L181.93,447.02 L182.83,447.47 L183.72,447.93 L184.59,448.42 L185.45,448.94 L186.31,449.45 L187.17,449.97 L188.03,450.49 L188.88,451.02 L189.68,451.60 L190.39,452.29 L191.06,453.04 L191.73,453.79 L192.39,454.54 L193.06,455.29 L193.74,456.02 L194.49,456.62 L195.38,456.95 L196.36,457.14 L197.33,457.35 L198.23,457.72 L199.06,458.27 L199.86,458.86 L200.67,459.46 L201.47,460.06 L202.27,460.66 L203.07,461.28 L203.86,461.90 L204.64,462.52 L205.43,463.14 L206.21,463.76 L207.00,464.39 L207.79,465.00 L208.62,465.56 L209.49,466.05 L210.38,466.51 L211.27,466.97 L212.17,467.41 L213.09,467.75 L214.06,467.88 L215.06,467.90 L216.06,467.90 L217.06,467.93 L218.03,468.08 L218.98,468.37 L219.93,468.71 L220.87,469.04 L221.82,469.34 L222.79,469.48 L223.77,469.44 L224.76,469.41 L225.74,469.53 L226.71,469.77 L227.68,470.03 L228.64,470.29 L229.61,470.54 L230.59,470.70 L231.58,470.71 L232.58,470.65 L233.58,470.58 L234.58,470.51 L235.57,470.50 L236.52,470.68 L237.42,471.08 L238.32,471.53 L239.21,471.98 L240.10,472.44 L241.00,472.89 L241.89,473.35 L242.78,473.80 L243.68,474.26 L244.57,474.71 L245.47,475.17 L246.36,475.62 L247.26,476.07 L248.16,476.51 L249.06,476.95 L249.96,477.38 L250.87,477.82 L251.77,478.25 L252.69,478.65 L253.63,478.98 L254.59,479.28 L255.54,479.58 L256.50,479.87 L257.46,480.13 L258.42,480.21 L259.38,480.03 L260.34,479.75 L261.30,479.46 L262.26,479.17 L263.21,478.86 L264.12,478.46 L264.99,477.98 L265.86,477.47 L266.71,476.95 L267.57,476.44 L268.43,475.91 L269.26,475.36 L270.03,474.72 L270.78,474.06 L271.52,473.38 L272.26,472.71 L273.00,472.03 L273.75,471.36 L274.47,470.67 L275.16,469.95 L275.82,469.19 L276.47,468.42 L277.12,467.66 L277.80,466.92 L278.50,466.21 L279.20,465.50 L279.91,464.79 L280.63,464.09 L281.38,463.48 L282.25,463.15 L283.18,462.95 L284.06,462.56 L284.91,462.03 L285.76,461.50 L286.64,461.04 L287.56,460.64 L288.48,460.25 L289.40,459.84 L290.30,459.40 L291.17,458.92 L292.04,458.42 L292.91,457.92 L293.78,457.42 L294.65,456.92 L295.52,456.41 L296.38,455.91 L297.25,455.41 L298.12,454.90 L298.96,454.37 L299.76,453.77 L300.54,453.14 L301.31,452.50 L302.09,451.87 L302.86,451.23 L303.64,450.59 L304.41,449.96 L305.19,449.32 L305.96,448.68 L306.67,447.99 L307.27,447.20 L307.81,446.36 L308.34,445.50 L308.86,444.65 L309.38,443.80 L309.87,442.92 L310.30,442.02 L310.68,441.09 L311.05,440.16 L311.43,439.23 L311.80,438.30 L312.17,437.37 L312.55,436.44 L312.92,435.51 L313.30,434.58 L313.68,433.65 L314.05,432.72 L314.43,431.80 L314.80,430.87 L315.15,429.93 L315.46,428.97 L315.73,428.01 L316.01,427.04 L316.28,426.08 L316.55,425.11 L316.82,424.15 L317.09,423.18 L317.36,422.22 L317.62,421.25 L317.87,420.28 L318.11,419.31 L318.36,418.33 L318.61,417.36 L318.86,416.39 L319.11,415.42 L319.36,414.45 L319.60,413.48 L319.85,412.51 L320.10,411.54 L320.35,410.56 L320.60,409.59 L320.85,408.62 L321.10,407.65 L321.35,406.68 L321.59,405.71 L321.84,404.74 L322.08,403.76 L322.33,402.79 L322.57,401.82 L322.81,400.85 L323.06,399.87 L323.30,398.90" fill="none" stroke="#a96fe0" stroke-width="1.5" stroke-linejoin="round" stroke-linecap="round"/>
<path d="M93.60,357.70 L93.81,358.68 L94.01,359.66 L94.22,360.64 L94.42,361.62 L94.63,362.61 L94.84,363.59 L95.06,364.56 L95.29,365.54 L95.55,366.51 L95.82,367.47 L96.11,368.43 L96.41,369.39 L96.71,370.34 L97.00,371.30 L97.30,372.26 L97.60,373.21 L97.91,374.17 L98.24,375.11 L98.60,376.05 L98.99,376.97 L99.39,377.88 L99.81,378.80 L100.22,379.71 L100.64,380.62 L101.07,381.53 L101.51,382.42 L102.01,383.28 L102.56,384.10 L103.17,384.89 L103.82,385.65 L104.47,386.41 L105.14,387.16 L105.81,387.89 L106.51,388.59 L107.27,389.22 L108.09,389.76 L108.96,390.21 L109.87,390.62 L110.79,391.01 L111.72,391.36 L112.66,391.64 L113.62,391.80 L114.61,391.86 L115.60,391.83 L116.58,391.75 L117.55,391.58 L118.49,391.32 L119.40,390.94 L120.28,390.48 L121.15,389.99 L122.02,389.49 L122.88,388.99 L123.75,388.48 L124.61,387.96 L125.46,387.44 L126.32,386.92 L127.17,386.40 L128.03,385.87 L128.88,385.35 L129.74,384.82 L130.59,384.29 L131.44,383.76 L132.29,383.23 L133.13,382.69 L133.97,382.14 L134.78,381.56 L135.55,380.93 L136.30,380.27 L137.02,379.58 L137.73,378.88 L138.46,378.19 L139.22,377.57 L140.03,377.02 L140.90,376.58 L141.82,376.23 L142.77,375.95 L143.74,375.76 L144.72,375.68 L145.70,375.70 L146.67,375.83 L147.62,376.06 L148.52,376.42 L149.40,376.88 L150.26,377.38 L151.11,377.91 L151.96,378.45 L152.78,379.01 L153.60,379.60 L154.39,380.20 L155.18,380.82 L155.96,381.45 L156.74,382.08 L157.52,382.71 L158.29,383.34 L159.05,384.00 L159.77,384.69 L160.47,385.41 L161.15,386.14 L161.82,386.89 L162.49,387.63 L163.16,388.38 L163.83,389.12 L164.50,389.87 L165.16,390.62 L165.80,391.39 L166.42,392.18 L167.02,392.98 L167.62,393.79 L168.21,394.59 L168.80,395.40 L169.40,396.21 L169.99,397.02 L170.58,397.83 L171.17,398.64 L171.76,399.45 L172.34,400.27 L172.93,401.08 L173.51,401.90 L174.10,402.71 L174.68,403.53 L175.26,404.34 L175.83,405.17 L176.38,406.00 L176.92,406.85 L177.46,407.69 L177.99,408.55 L178.51,409.40 L179.04,410.25 L179.57,411.10 L180.09,411.96 L180.62,412.81 L181.13,413.67 L181.63,414.54 L182.13,415.41 L182.62,416.29 L183.10,417.16 L183.59,418.04 L184.08,418.91 L184.60,419.77 L185.15,420.60 L185.74,421.40 L186.37,422.18 L187.01,422.95 L187.67,423.70 L188.34,424.45 L189.03,425.18 L189.73,425.89 L190.44,426.60 L191.16,427.30 L191.88,427.99 L192.62,428.66 L193.39,429.29 L194.19,429.89 L195.02,430.45 L195.85,431.00 L196.67,431.57 L197.44,432.19 L198.16,432.86 L198.81,433.61 L199.43,434.39 L200.03,435.20 L200.62,436.00 L201.22,436.81 L201.82,437.61 L202.44,438.40 L203.07,439.17 L203.73,439.93 L204.39,440.68 L205.07,441.42 L205.74,442.16 L206.41,442.91 L207.09,443.65 L207.77,444.38 L208.45,445.11 L209.15,445.83 L209.85,446.55 L210.56,447.26 L211.27,447.97 L211.98,448.68 L212.69,449.38 L213.42,450.06 L214.18,450.70 L214.98,451.30 L215.81,451.86 L216.65,452.39 L217.51,452.92 L218.36,453.44 L219.23,453.95 L220.10,454.44 L220.98,454.92 L221.87,455.38 L222.76,455.83 L223.66,456.28 L224.55,456.73 L225.45,457.19 L226.34,457.65 L227.22,458.12 L228.10,458.60 L228.99,459.06 L229.88,459.51 L230.79,459.93 L231.72,460.31 L232.65,460.66 L233.60,461.00 L234.54,461.32 L235.50,461.62 L236.47,461.87 L237.44,462.07 L238.43,462.23 L239.42,462.38 L240.41,462.50 L241.41,462.60 L242.41,462.66 L243.41,462.69 L244.41,462.69 L245.41,462.68 L246.41,462.64 L247.40,462.55 L248.39,462.42 L249.38,462.24 L250.36,462.05 L251.34,461.85 L252.31,461.62 L253.28,461.35 L254.23,461.05 L255.18,460.74 L256.13,460.41 L257.07,460.07 L258.01,459.70 L258.93,459.31 L259.84,458.90 L260.74,458.47 L261.65,458.04 L262.55,457.60 L263.44,457.15 L264.33,456.69 L265.22,456.21 L266.10,455.73 L266.97,455.24 L267.83,454.73 L268.69,454.21 L269.53,453.67 L270.37,453.12 L271.19,452.55 L272.01,451.97 L272.80,451.36 L273.58,450.73 L274.35,450.09 L275.11,449.44 L275.85,448.76 L276.57,448.06 L277.27,447.35 L277.96,446.62 L278.64,445.89 L279.32,445.15 L279.97,444.39 L280.60,443.61 L281.22,442.82 L281.83,442.03 L282.44,441.23 L283.04,440.43 L283.62,439.62 L284.18,438.79 L284.73,437.95 L285.26,437.10 L285.79,436.25 L286.32,435.40 L286.85,434.55 L287.37,433.69 L287.87,432.82 L288.35,431.94 L288.82,431.06 L289.29,430.17 L289.76,429.29 L290.23,428.40 L290.69,427.51 L291.15,426.62 L291.59,425.72 L292.02,424.81 L292.43,423.90 L292.83,422.98 L293.23,422.06 L293.63,421.14 L294.03,420.22 L294.43,419.30 L294.83,418.38 L295.22,417.46 L295.60,416.54 L295.98,415.61 L296.35,414.68 L296.72,413.74 L297.09,412.81 L297.45,411.88 L297.82,410.94 L298.18,410.01 L298.55,409.08 L298.91,408.14 L299.27,407.21 L299.63,406.27 L299.97,405.33 L300.31,404.38 L300.65,403.44 L300.98,402.50 L301.32,401.55 L301.65,400.61 L301.99,399.66 L302.32,398.72 L302.65,397.77 L302.99,396.82 L303.32,395.88 L303.64,394.93 L303.96,393.98 L304.27,393.03 L304.58,392.07 L304.89,391.12 L305.20,390.17 L305.51,389.21 L305.82,388.26 L306.13,387.31 L306.44,386.35 L306.75,385.40 L307.06,384.45 L307.37,383.49 L307.67,382.54 L307.97,381.58 L308.27,380.62 L308.56,379.66 L308.86,378.71 L309.15,377.75 L309.45,376.79 L309.74,375.83 L310.04,374.87 L310.33,373.92 L310.63,372.96 L310.92,372.00 L311.22,371.04 L311.51,370.08 L311.79,369.12 L312.07,368.16 L312.35,367.20 L312.63,366.23 L312.91,365.27 L313.19,364.31 L313.47,363.34 L313.74,362.38 L314.02,361.42 L314.30,360.45 L314.58,359.49 L314.86,358.53 L315.14,357.56 L315.41,356.60 L315.69,355.64 L315.97,354.68 L316.25,353.71 L316.54,352.75 L316.82,351.79 L317.10,350.83 L317.38,349.87 L317.66,348.90 L317.94,347.94 L318.22,346.98 L318.50,346.02 L318.78,345.05 L319.07,344.09 L319.35,343.13 L319.63,342.17 L319.92,341.21 L320.20,340.25 L320.49,339.29 L320.78,338.33 L321.06,337.36 L321.35,336.40 L321.64,335.44 L321.92,334.48 L322.21,333.52 L322.50,332.56 L322.78,331.60 L323.07,330.64 L323.36,329.68" fill="none" stroke="#474747" stroke-width="1.5" stroke-linejoin="round" stroke-linecap="round"/>
<path d="M93.60,359.90 L93.77,360.89 L93.95,361.87 L94.12,362.86 L94.30,363.85 L94.47,364.84 L94.65,365.82 L94.83,366.81 L95.01,367.79 L95.21,368.78 L95.44,369.75 L95.70,370.72 L95.99,371.68 L96.28,372.63 L96.58,373.59 L96.88,374.55 L97.18,375.51 L97.48,376.46 L97.79,377.41 L98.12,378.36 L98.48,379.29 L98.88,380.21 L99.30,381.11 L99.74,382.01 L100.19,382.91 L100.63,383.81 L101.07,384.71 L101.52,385.61 L101.98,386.49 L102.48,387.36 L103.02,388.20 L103.61,389.00 L104.24,389.77 L104.89,390.53 L105.56,391.28 L106.24,392.00 L106.97,392.65 L107.77,393.20 L108.64,393.64 L109.55,394.01 L110.49,394.32 L111.45,394.56 L112.40,394.68 L113.37,394.66 L114.35,394.54 L115.32,394.34 L116.29,394.09 L117.22,393.78 L118.13,393.39 L119.01,392.92 L119.86,392.41 L120.71,391.88 L121.56,391.34 L122.39,390.79 L123.19,390.19 L123.96,389.56 L124.69,388.88 L125.41,388.18 L126.12,387.48 L126.83,386.77 L127.54,386.06 L128.23,385.34 L128.90,384.60 L129.53,383.82 L130.13,383.02 L130.70,382.20 L131.26,381.37 L131.82,380.54 L132.38,379.71 L132.94,378.87 L133.50,378.04 L134.05,377.21 L134.61,376.37 L135.16,375.53 L135.70,374.69 L136.25,373.85 L136.78,373.00 L137.32,372.16 L137.86,371.31 L138.39,370.46 L138.94,369.62 L139.49,368.79 L140.08,367.99 L140.72,367.24 L141.44,366.57 L142.23,366.01 L143.09,365.57 L144.00,365.30 L144.92,365.23 L145.84,365.37 L146.74,365.68 L147.62,366.11 L148.48,366.61 L149.31,367.16 L150.12,367.75 L150.90,368.37 L151.67,369.01 L152.42,369.68 L153.14,370.36 L153.84,371.08 L154.52,371.82 L155.19,372.56 L155.86,373.31 L156.53,374.05 L157.19,374.80 L157.85,375.56 L158.49,376.33 L159.12,377.11 L159.74,377.90 L160.36,378.69 L160.98,379.47 L161.60,380.26 L162.22,381.05 L162.84,381.84 L163.47,382.62 L164.10,383.40 L164.73,384.18 L165.36,384.96 L165.99,385.74 L166.62,386.52 L167.25,387.30 L167.87,388.09 L168.46,388.89 L169.04,389.71 L169.60,390.54 L170.15,391.38 L170.70,392.22 L171.25,393.06 L171.80,393.90 L172.35,394.73 L172.90,395.57 L173.45,396.41 L174.01,397.24 L174.57,398.08 L175.13,398.91 L175.69,399.74 L176.25,400.57 L176.81,401.40 L177.37,402.23 L177.93,403.06 L178.49,403.89 L179.05,404.72 L179.61,405.55 L180.18,406.38 L180.74,407.22 L181.30,408.05 L181.86,408.88 L182.42,409.71 L182.99,410.53 L183.56,411.36 L184.15,412.17 L184.75,412.97 L185.36,413.76 L185.98,414.55 L186.60,415.34 L187.22,416.13 L187.84,416.91 L188.47,417.69 L189.12,418.46 L189.79,419.20 L190.47,419.94 L191.15,420.67 L191.84,421.40 L192.53,422.13 L193.22,422.85 L193.92,423.58 L194.61,424.30 L195.32,425.01 L196.02,425.72 L196.73,426.43 L197.44,427.14 L198.13,427.87 L198.80,428.61 L199.45,429.37 L200.06,430.16 L200.65,430.97 L201.24,431.78 L201.83,432.59 L202.41,433.41 L203.01,434.21 L203.61,435.01 L204.23,435.80 L204.87,436.57 L205.51,437.34 L206.15,438.11 L206.80,438.88 L207.45,439.64 L208.10,440.41 L208.75,441.16 L209.43,441.90 L210.13,442.61 L210.85,443.31 L211.59,443.98 L212.34,444.65 L213.08,445.32 L213.83,445.99 L214.59,446.64 L215.37,447.27 L216.17,447.87 L216.99,448.45 L217.81,449.02 L218.64,449.58 L219.48,450.14 L220.31,450.69 L221.15,451.24 L221.99,451.78 L222.85,452.30 L223.71,452.81 L224.56,453.33 L225.40,453.88 L226.22,454.45 L227.02,455.05 L227.82,455.65 L228.62,456.26 L229.43,456.86 L230.24,457.44 L231.07,457.99 L231.92,458.52 L232.78,459.04 L233.64,459.55 L234.51,460.04 L235.40,460.51 L236.30,460.93 L237.22,461.30 L238.17,461.63 L239.12,461.93 L240.08,462.23 L241.03,462.54 L241.99,462.85 L242.94,463.17 L243.89,463.49 L244.84,463.81 L245.79,464.11 L246.75,464.36 L247.73,464.54 L248.72,464.66 L249.71,464.73 L250.71,464.78 L251.71,464.79 L252.71,464.75 L253.69,464.65 L254.68,464.49 L255.66,464.30 L256.65,464.11 L257.63,463.90 L258.61,463.69 L259.59,463.47 L260.56,463.25 L261.54,463.01 L262.50,462.76 L263.45,462.46 L264.38,462.10 L265.29,461.69 L266.19,461.25 L267.08,460.80 L267.98,460.35 L268.88,459.92 L269.79,459.50 L270.71,459.09 L271.62,458.67 L272.53,458.25 L273.43,457.82 L274.34,457.38 L275.23,456.94 L276.12,456.47 L276.99,455.98 L277.86,455.48 L278.71,454.95 L279.55,454.41 L280.37,453.84 L281.18,453.24 L281.97,452.63 L282.76,452.01 L283.52,451.36 L284.27,450.70 L285.00,450.02 L285.73,449.32 L286.44,448.62 L287.14,447.90 L287.81,447.16 L288.47,446.41 L289.11,445.63 L289.74,444.85 L290.36,444.07 L290.98,443.28 L291.58,442.48 L292.16,441.66 L292.72,440.83 L293.27,440.00 L293.83,439.16 L294.37,438.32 L294.92,437.48 L295.45,436.63 L295.97,435.77 L296.47,434.90 L296.96,434.03 L297.45,433.15 L297.93,432.28 L298.42,431.40 L298.90,430.52 L299.38,429.64 L299.85,428.75 L300.30,427.86 L300.75,426.96 L301.20,426.07 L301.64,425.17 L302.09,424.27 L302.53,423.37 L302.97,422.47 L303.41,421.57 L303.84,420.66 L304.26,419.75 L304.67,418.84 L305.08,417.92 L305.49,417.01 L305.90,416.09 L306.32,415.18 L306.73,414.27 L307.13,413.35 L307.54,412.43 L307.93,411.51 L308.32,410.59 L308.70,409.66 L309.08,408.73 L309.46,407.80 L309.84,406.88 L310.22,405.95 L310.61,405.02 L310.99,404.09 L311.37,403.17 L311.75,402.24 L312.13,401.31 L312.51,400.39 L312.90,399.46 L313.28,398.53 L313.66,397.61 L314.04,396.68 L314.42,395.75 L314.81,394.83 L315.19,393.90 L315.57,392.97 L315.96,392.05 L316.35,391.12 L316.74,390.20 L317.13,389.28 L317.52,388.35 L317.90,387.43 L318.29,386.50 L318.68,385.58 L319.08,384.66 L319.47,383.74 L319.87,382.82 L320.28,381.90 L320.70,380.99 L321.11,380.08 L321.53,379.16 L321.94,378.25 L322.36,377.34 L322.77,376.43 L323.19,375.51 L323.60,374.60" fill="none" stroke="#1f6be0" stroke-width="1.5" stroke-linejoin="round" stroke-linecap="round"/>
<path d="M93.60,348.10 L93.81,349.08 L94.01,350.06 L94.22,351.04 L94.42,352.02 L94.63,353.00 L94.84,353.98 L95.06,354.96 L95.30,355.93 L95.57,356.90 L95.87,357.85 L96.18,358.80 L96.50,359.75 L96.82,360.70 L97.14,361.65 L97.46,362.60 L97.79,363.55 L98.13,364.49 L98.50,365.42 L98.88,366.34 L99.29,367.26 L99.70,368.17 L100.12,369.08 L100.54,370.00 L100.96,370.90 L101.40,371.80 L101.87,372.68 L102.40,373.52 L102.99,374.32 L103.62,375.10 L104.26,375.86 L104.91,376.62 L105.59,377.34 L106.32,377.99 L107.12,378.55 L107.99,379.02 L108.89,379.44 L109.81,379.81 L110.75,380.14 L111.70,380.38 L112.67,380.52 L113.66,380.56 L114.65,380.54 L115.63,380.43 L116.59,380.21 L117.53,379.91 L118.46,379.55 L119.37,379.15 L120.28,378.73 L121.15,378.25 L121.98,377.71 L122.79,377.13 L123.59,376.52 L124.37,375.90 L125.16,375.28 L125.95,374.66 L126.74,374.04 L127.53,373.43 L128.33,372.82 L129.13,372.21 L129.93,371.61 L130.73,371.01 L131.53,370.41 L132.33,369.81 L133.13,369.20 L133.91,368.57 L134.68,367.93 L135.44,367.28 L136.20,366.63 L136.96,365.97 L137.72,365.32 L138.49,364.68 L139.27,364.06 L140.08,363.48 L140.92,362.94 L141.79,362.45 L142.68,362.02 L143.61,361.68 L144.56,361.43 L145.53,361.28 L146.51,361.24 L147.49,361.33 L148.46,361.50 L149.43,361.74 L150.38,362.03 L151.33,362.36 L152.26,362.72 L153.18,363.10 L154.10,363.50 L155.01,363.93 L155.91,364.36 L156.81,364.81 L157.70,365.27 L158.57,365.76 L159.40,366.29 L160.21,366.88 L160.98,367.51 L161.74,368.17 L162.49,368.83 L163.23,369.50 L163.94,370.20 L164.62,370.93 L165.26,371.69 L165.87,372.49 L166.47,373.29 L167.06,374.10 L167.65,374.91 L168.24,375.72 L168.83,376.53 L169.40,377.35 L169.96,378.18 L170.49,379.03 L171.02,379.88 L171.54,380.74 L172.06,381.59 L172.58,382.45 L173.10,383.31 L173.62,384.16 L174.14,385.02 L174.65,385.88 L175.16,386.75 L175.66,387.61 L176.16,388.48 L176.66,389.35 L177.16,390.22 L177.65,391.09 L178.15,391.96 L178.65,392.83 L179.15,393.70 L179.64,394.57 L180.14,395.44 L180.64,396.31 L181.14,397.18 L181.65,398.05 L182.15,398.92 L182.65,399.78 L183.15,400.65 L183.65,401.52 L184.15,402.38 L184.66,403.25 L185.18,404.10 L185.72,404.95 L186.26,405.79 L186.81,406.63 L187.36,407.47 L187.92,408.30 L188.47,409.14 L189.03,409.97 L189.60,410.79 L190.20,411.59 L190.84,412.35 L191.52,413.09 L192.21,413.81 L192.92,414.52 L193.63,415.23 L194.34,415.94 L195.04,416.65 L195.73,417.37 L196.39,418.12 L197.01,418.90 L197.59,419.71 L198.13,420.55 L198.66,421.40 L199.19,422.25 L199.72,423.10 L200.25,423.95 L200.79,424.80 L201.34,425.63 L201.90,426.46 L202.48,427.28 L203.06,428.10 L203.65,428.91 L204.24,429.72 L204.83,430.53 L205.42,431.34 L206.02,432.14 L206.64,432.93 L207.27,433.71 L207.91,434.48 L208.55,435.25 L209.19,436.02 L209.83,436.79 L210.47,437.56 L211.13,438.31 L211.83,439.02 L212.57,439.68 L213.35,440.30 L214.16,440.89 L214.97,441.47 L215.80,442.05 L216.62,442.61 L217.47,443.15 L218.33,443.65 L219.21,444.12 L220.10,444.58 L221.00,445.02 L221.90,445.47 L222.79,445.93 L223.67,446.40 L224.54,446.89 L225.40,447.40 L226.26,447.92 L227.12,448.44 L227.98,448.96 L228.84,449.47 L229.71,449.95 L230.61,450.37 L231.53,450.74 L232.48,451.05 L233.44,451.34 L234.40,451.61 L235.37,451.88 L236.34,452.15 L237.30,452.40 L238.27,452.65 L239.25,452.89 L240.22,453.12 L241.20,453.32 L242.19,453.46 L243.18,453.56 L244.18,453.63 L245.18,453.67 L246.17,453.67 L247.15,453.58 L248.13,453.42 L249.09,453.18 L250.05,452.90 L251.01,452.61 L251.97,452.31 L252.92,452.00 L253.87,451.69 L254.82,451.36 L255.77,451.04 L256.71,450.70 L257.65,450.35 L258.57,449.97 L259.49,449.56 L260.40,449.14 L261.30,448.70 L262.19,448.25 L263.06,447.77 L263.90,447.23 L264.69,446.63 L265.46,445.99 L266.21,445.33 L266.96,444.67 L267.72,444.02 L268.48,443.37 L269.26,442.74 L270.04,442.11 L270.81,441.47 L271.58,440.83 L272.34,440.17 L273.09,439.50 L273.82,438.83 L274.56,438.14 L275.28,437.45 L276.00,436.75 L276.70,436.04 L277.40,435.32 L278.09,434.59 L278.77,433.86 L279.44,433.11 L280.08,432.35 L280.71,431.57 L281.33,430.78 L281.94,429.98 L282.55,429.19 L283.14,428.38 L283.71,427.56 L284.27,426.73 L284.80,425.88 L285.32,425.02 L285.84,424.17 L286.36,423.31 L286.87,422.45 L287.38,421.58 L287.86,420.71 L288.33,419.82 L288.78,418.93 L289.23,418.03 L289.68,417.14 L290.13,416.24 L290.58,415.34 L291.02,414.44 L291.45,413.54 L291.86,412.63 L292.26,411.71 L292.65,410.78 L293.03,409.86 L293.41,408.93 L293.79,408.00 L294.17,407.08 L294.55,406.15 L294.93,405.22 L295.30,404.29 L295.67,403.36 L296.02,402.42 L296.36,401.48 L296.70,400.53 L297.04,399.59 L297.38,398.65 L297.72,397.71 L298.06,396.76 L298.40,395.82 L298.74,394.88 L299.08,393.93 L299.41,392.99 L299.73,392.04 L300.05,391.09 L300.36,390.13 L300.66,389.18 L300.97,388.22 L301.27,387.27 L301.58,386.31 L301.88,385.36 L302.19,384.41 L302.50,383.45 L302.80,382.50 L303.10,381.54 L303.40,380.59 L303.70,379.63 L303.99,378.67 L304.27,377.71 L304.55,376.74 L304.83,375.78 L305.11,374.82 L305.39,373.86 L305.67,372.90 L305.96,371.93 L306.24,370.97 L306.52,370.01 L306.80,369.05 L307.08,368.08 L307.36,367.12 L307.63,366.16 L307.90,365.19 L308.17,364.23 L308.43,363.26 L308.70,362.29 L308.96,361.33 L309.23,360.36 L309.49,359.39 L309.76,358.43 L310.02,357.46 L310.29,356.49 L310.55,355.53 L310.82,354.56 L311.08,353.59 L311.34,352.63 L311.60,351.66 L311.86,350.69 L312.11,349.72 L312.36,348.75 L312.61,347.78 L312.86,346.81 L313.10,345.84 L313.35,344.87 L313.60,343.89 L313.85,342.92 L314.10,341.95 L314.35,340.98 L314.60,340.01 L314.85,339.04 L315.10,338.07 L315.35,337.10 L315.60,336.13 L315.85,335.16 L316.11,334.19 L316.36,333.22 L316.62,332.25 L316.87,331.28 L317.13,330.31 L317.38,329.34 L317.64,328.38 L317.89,327.41 L318.15,326.44 L318.40,325.47 L318.66,324.50 L318.91,323.53 L319.17,322.56 L319.43,321.59 L319.69,320.62 L319.95,319.66 L320.21,318.69 L320.47,317.72 L320.74,316.75 L321.00,315.79 L321.26,314.82 L321.53,313.85 L321.79,312.89 L322.05,311.92 L322.32,310.95 L322.58,309.98 L322.84,309.02 L323.11,308.05 L323.37,307.08" fill="none" stroke="#f14d4d" stroke-width="1.5" stroke-linejoin="round" stroke-linecap="round"/>
<rect x="402.90" y="275.30" width="279.10" height="224.50" fill="none" stroke="#000" stroke-width="1.7"/>
<line x1="398.40" y1="477.40" x2="402.90" y2="477.40" stroke="#000" stroke-width="1.3"/>
<text transform="translate(394.90,480.30) scale(1.07,1)" font-size="10.9" font-weight="bold" text-anchor="end" font-family="'Liberation Sans', sans-serif">0.0120</text>
<line x1="398.40" y1="432.50" x2="402.90" y2="432.50" stroke="#000" stroke-width="1.3"/>
<text transform="translate(394.90,435.40) scale(1.07,1)" font-size="10.9" font-weight="bold" text-anchor="end" font-family="'Liberation Sans', sans-serif">0.0125</text>
<line x1="398.40" y1="387.60" x2="402.90" y2="387.60" stroke="#000" stroke-width="1.3"/>
<text transform="translate(394.90,390.50) scale(1.07,1)" font-size="10.9" font-weight="bold" text-anchor="end" font-family="'Liberation Sans', sans-serif">0.0130</text>
<line x1="398.40" y1="342.70" x2="402.90" y2="342.70" stroke="#000" stroke-width="1.3"/>
<text transform="translate(394.90,345.60) scale(1.07,1)" font-size="10.9" font-weight="bold" text-anchor="end" font-family="'Liberation Sans', sans-serif">0.0135</text>
<line x1="398.40" y1="297.80" x2="402.90" y2="297.80" stroke="#000" stroke-width="1.3"/>
<text transform="translate(394.90,300.70) scale(1.07,1)" font-size="10.9" font-weight="bold" text-anchor="end" font-family="'Liberation Sans', sans-serif">0.0140</text>
<line x1="400.70" y1="499.85" x2="402.90" y2="499.85" stroke="#000" stroke-width="1.3"/>
<line x1="400.70" y1="454.95" x2="402.90" y2="454.95" stroke="#000" stroke-width="1.3"/>
<line x1="400.70" y1="410.05" x2="402.90" y2="410.05" stroke="#000" stroke-width="1.3"/>
<line x1="400.70" y1="365.15" x2="402.90" y2="365.15" stroke="#000" stroke-width="1.3"/>
<line x1="400.70" y1="320.25" x2="402.90" y2="320.25" stroke="#000" stroke-width="1.3"/>
<line x1="400.70" y1="275.35" x2="402.90" y2="275.35" stroke="#000" stroke-width="1.3"/>
<line x1="400.70" y1="275.30" x2="402.90" y2="275.30" stroke="#000" stroke-width="1.3"/>
<line x1="402.70" y1="499.80" x2="402.70" y2="504.70" stroke="#000" stroke-width="1.3"/>
<text transform="translate(403.00,516.80) scale(1.0,1.06)" font-size="10.8" font-weight="bold" text-anchor="middle" font-family="'Liberation Sans', sans-serif">0</text>
<line x1="428.12" y1="499.80" x2="428.12" y2="502.20" stroke="#000" stroke-width="1.3"/>
<line x1="453.54" y1="499.80" x2="453.54" y2="504.70" stroke="#000" stroke-width="1.3"/>
<text transform="translate(453.84,516.80) scale(1.0,1.06)" font-size="10.8" font-weight="bold" text-anchor="middle" font-family="'Liberation Sans', sans-serif">2</text>
<line x1="478.96" y1="499.80" x2="478.96" y2="502.20" stroke="#000" stroke-width="1.3"/>
<line x1="504.38" y1="499.80" x2="504.38" y2="504.70" stroke="#000" stroke-width="1.3"/>
<text transform="translate(504.68,516.80) scale(1.0,1.06)" font-size="10.8" font-weight="bold" text-anchor="middle" font-family="'Liberation Sans', sans-serif">4</text>
<line x1="529.80" y1="499.80" x2="529.80" y2="502.20" stroke="#000" stroke-width="1.3"/>
<line x1="555.22" y1="499.80" x2="555.22" y2="504.70" stroke="#000" stroke-width="1.3"/>
<text transform="translate(555.52,516.80) scale(1.0,1.06)" font-size="10.8" font-weight="bold" text-anchor="middle" font-family="'Liberation Sans', sans-serif">6</text>
<line x1="580.64" y1="499.80" x2="580.64" y2="502.20" stroke="#000" stroke-width="1.3"/>
<line x1="606.06" y1="499.80" x2="606.06" y2="504.70" stroke="#000" stroke-width="1.3"/>
<text transform="translate(606.36,516.80) scale(1.0,1.06)" font-size="10.8" font-weight="bold" text-anchor="middle" font-family="'Liberation Sans', sans-serif">8</text>
<line x1="631.48" y1="499.80" x2="631.48" y2="502.20" stroke="#000" stroke-width="1.3"/>
<line x1="656.90" y1="499.80" x2="656.90" y2="504.70" stroke="#000" stroke-width="1.3"/>
<text transform="translate(657.20,516.80) scale(1.0,1.06)" font-size="10.8" font-weight="bold" text-anchor="middle" font-family="'Liberation Sans', sans-serif">10</text>
<line x1="682.32" y1="499.80" x2="682.32" y2="502.20" stroke="#000" stroke-width="1.3"/>
<text x="542.50" y="537.10" font-size="11.65" font-weight="bold" text-anchor="middle" font-family="'Liberation Sans', sans-serif" >Spiked concentration (<tspan font-weight="normal">μ</tspan>M)</text>
<text x="0.00" y="0.00" font-size="11.75" font-weight="bold" text-anchor="middle" font-family="'Liberation Sans', sans-serif" transform="translate(355.4,388.0) rotate(-90)">Current density (mA)</text>
<text x="650.90" y="291.60" font-size="17.4" font-weight="bold" text-anchor="start" font-family="'Liberation Sans', sans-serif" >(d)</text>
<line x1="427.70" y1="463.00" x2="657.30" y2="294.60" stroke="#ff1010" stroke-width="2.4"/>
<rect x="425.80" y="475.00" width="5.2" height="5.2" fill="#000"/>
<rect x="501.80" y="385.00" width="5.2" height="5.2" fill="#000"/>
<rect x="603.50" y="322.10" width="5.2" height="5.2" fill="#000"/>
<rect x="654.30" y="304.10" width="5.2" height="5.2" fill="#000"/>
<text transform="translate(420.6,312.6) scale(1.04,1)" font-size="11.1" font-weight="bold" font-family="'Liberation Sans', sans-serif">y = 0.0012x +2.11</text>
<text x="514.8" y="311.6" font-size="12.2" font-weight="normal" font-family="'Liberation Sans', sans-serif">×</text>
<text x="523.5" y="312.0" font-size="11.4" font-weight="normal" font-family="'Liberation Serif', serif">10</text>
<text x="533.6" y="307.6" font-size="8.2" font-weight="normal" font-family="'Liberation Serif', serif">−5</text>
<text transform="translate(450.7,343.4) scale(1.04,1)" font-size="11.1" font-weight="bold" font-family="'Liberation Sans', sans-serif">r<tspan font-size="7.8" dy="-4.7">2</tspan><tspan dy="4.7"> = 0.93</tspan></text>
</svg>
</body></html>
